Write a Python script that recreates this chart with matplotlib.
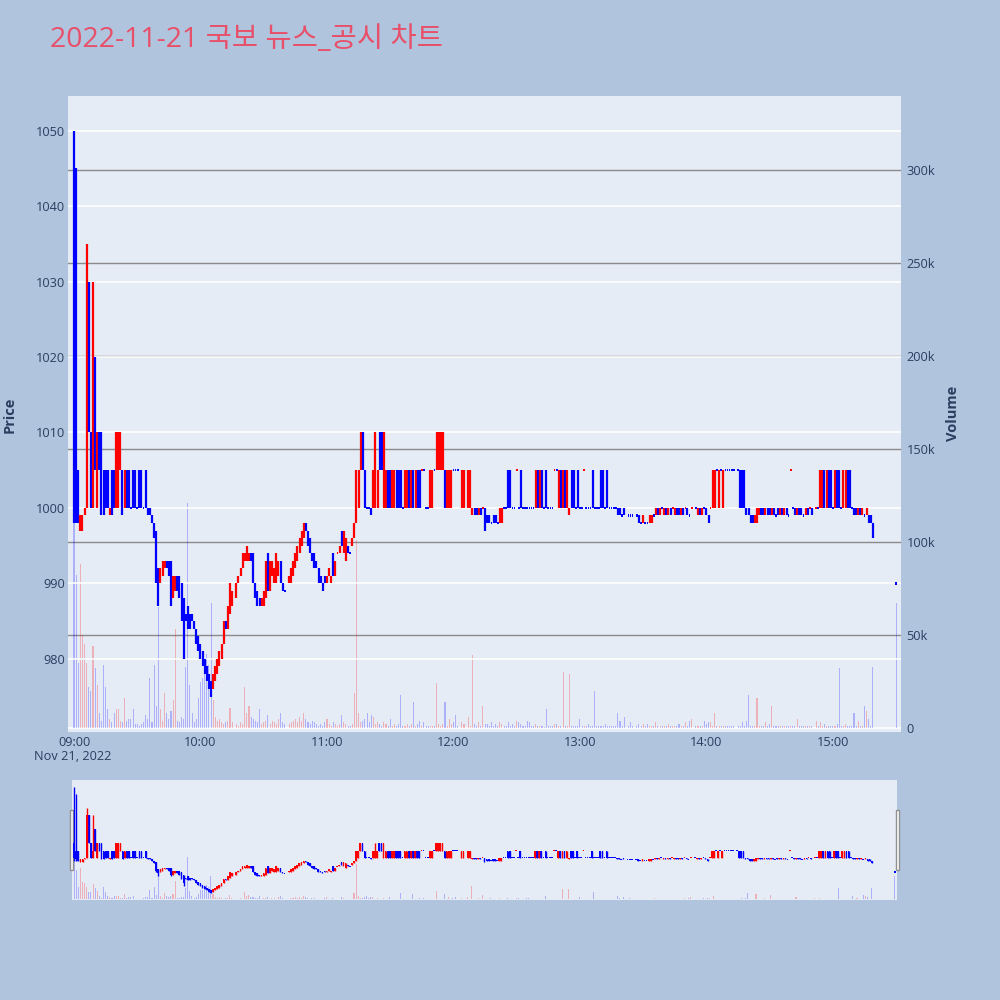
import numpy as np
import matplotlib.pyplot as plt
from matplotlib.patches import Rectangle

plt.rcParams['font.family'] = ['Open Sans', 'Noto Sans CJK KR', 'DejaVu Sans']

nan = np.nan

# 09:00 부터 분 단위 (15:19 까지 + 15:30 동시호가)
minutes = list(range(380)) + [390]

opens = [
    1010, 1005, 1005, 997, 997, 999, 1000, 1030, 1010, 1000,
    1020, 1000, 1010, 1010, 1005, 1005, 1005, 999, 1005, 1005,
    1000, 1000, 1005, 1005, 1000, 1005, 1005, 1000, 1005, 1005,
    1000, 1005, 1005, 1000, 1005, 1000, 1000, 999, 998, 997,
    992, 990, 991, 992, 993, 993, 993, 988, 989, 991,
    991, 990, 988, 986, 987, 986, 986, 985, 984, 983,
    982, 981, 980, 979, 978, 977, 976, 977, 978, 979,
    980, 982, 985, 984, 986, 987, nan, 988, 990, 991,
    992, 993, 993, 993, 994, 994, 990, 989, 988, 987,
    987, 988, 994, 989, 991, 990, 990, 991, 993, 990,
    989, nan, 990, 990, 991, 992, 993, 994, 995, 996,
    998, 997, 996, 994, 994, 993, 992, 991, 990, 991,
    990, 991, 990, 994, 991, 994, 994, 997, 994, 993,
    995, 994, 995, 996, 998, 1000, 1005, 1010, 1005, 1000,
    1000, 1000, 1000, 1000, 1000, 1010, 1010, 1000, 1000, 1005,
    1005, 1000, 1000, 1005, 1005, 1005, 1000, 1000, 1000, 1005,
    1000, 1005, 1000, 1005, 1005, 1005, 1005, 1000, 1000, 1000,
    1000, 1005, 1005, 1005, 1005, 1005, 1005, 1000, 1000, 1000,
    1005, 1005, 1005, nan, 1000, 1000, nan, 1000, 1000, 999,
    1000, 1000, 999, 1000, 1000, 1000, 999, 999, 998, 999,
    999, 998, 998, 998, 1000, 1000, 1005, 1005, 1000, 1000,
    1005, 1000, 1005, 1000, 1000, 1000, 1000, 1000, 1000, 1000,
    1005, 1000, 1005, 1000, 1005, 1000, 1000, 1000, 1005, 1005,
    1000, 1005, 1000, 1005, 1000, 999, 1005, 1005, 1000, 1005,
    1000, 1000, 1005, 1000, 1000, 1000, 1005, 1000, 1000, 1000,
    1005, 1005, 1000, 1005, 1000, 1000, 1000, 1000, 1000, 1000,
    999, 1000, nan, 999, 999, 999, nan, 999, 999, 998,
    998, 998, 998, 998, 998, 999, 999, 1000, 999, 1000,
    999, 1000, 999, 1000, 1000, 999, 1000, 1000, 999, 1000,
    1000, 1000, 999, 1000, nan, 1000, 999, 1000, 999, 1000,
    1000, 999, 1000, 1000, 1000, 1005, 1000, 1005, 1000, 1005,
    1005, 1005, 1005, 1005, nan, 1005, 1005, 1005, 1005, 1000,
    1000, 999, 999, 998, 998, 999, 1000, 1000, 999, 1000,
    1000, 999, 1000, 999, 1000, 999, 1000, 999, 1000, 999,
    1005, 1000, 1000, 999, 1000, 1000, 999, 999, 1000, 1000,
    1000, nan, 1000, 1000, 1000, 1000, 1005, 1000, 1005, 1005,
    1000, 1000, 1005, 1005, 1000, 1000, 1000, 1005, 1005, 1000,
    1000, 1000, 999, 1000, 999, 999, 999, 999, 999, 998,
    990,
]

closes = [
    1000, 999, 998, 999, 999, 1000, 1030, 1010, 1000, 1005,
    1005, 1010, 1005, 999, 999, 1000, 1000, 1000, 999, 1000,
    1010, 1010, 1010, 999, 1005, 1000, 1000, 1000, 1000, 1000,
    1000, 1000, 1000, 1000, 1000, 999, 999, 998, 996, 991,
    989, 992, 993, 993, 992, 991, 988, 991, 991, 989,
    988, 985, 982, 985, 984, 984, 985, 984, 982, 981,
    980, 979, 978, 977, 976, 975, 978, 979, 980, 981,
    982, 985, 984, 987, 990, 989, nan, 990, 991, 992,
    994, 994, 995, 994, 993, 990, 988, 987, 987, 988,
    989, 993, 989, 993, 993, 992, 994, 993, 990, 989,
    989, nan, 991, 992, 993, 994, 995, 996, 997, 998,
    997, 995, 994, 993, 992, 992, 990, 990, 989, 990,
    991, 992, 991, 991, 993, 994, 995, 995, 997, 996,
    994, 994, 996, 998, 1005, 1005, 1010, 1005, 1000, 1000,
    1000, 999, 1005, 1005, 1005, 1005, 1005, 1010, 1005, 1000,
    1000, 1005, 1005, 1000, 1000, 1000, 1000, 1005, 1005, 1000,
    1005, 1000, 1005, 1000, 1000, 1005, 1005, 1000, 1000, 1005,
    1005, 1005, 1010, 1010, 1010, 1010, 1000, 1005, 1005, 1005,
    1005, 1005, 1005, nan, 1005, 1005, nan, 1005, 1005, 1000,
    999, 999, 1000, 999, 1000, 999, 998, 998, 998, 998,
    998, 998, 1000, 1000, 1000, 1000, 1000, 1000, 1000, 1000,
    1005, 1000, 1000, 1000, 1000, 1000, 1000, 1000, 1000, 1005,
    1000, 1005, 1000, 1000, 1000, 1000, 1000, 1000, 1005, 1005,
    1005, 1000, 1005, 1000, 1005, 1000, 1000, 1000, 1000, 1000,
    1000, 1000, 1005, 1000, 1000, 1000, 1000, 1000, 1000, 1000,
    1000, 1000, 1000, 1000, 1000, 1000, 1000, 1000, 999, 999,
    999, 999, nan, 999, 999, 999, nan, 999, 998, 998,
    999, 998, 998, 999, 999, 999, 1000, 999, 1000, 1000,
    1000, 999, 1000, 999, 1000, 1000, 999, 999, 1000, 999,
    1000, 999, 999, 1000, nan, 1000, 1000, 999, 1000, 1000,
    999, 998, 1000, 1005, 1005, 1005, 1005, 1005, 1005, 1005,
    1005, 1005, 1005, 1005, nan, 1005, 1000, 1000, 1000, 999,
    999, 998, 998, 999, 1000, 1000, 999, 999, 1000, 999,
    999, 1000, 999, 999, 999, 1000, 999, 1000, 999, 999,
    1005, 1000, 999, 1000, 999, 999, 999, 1000, 999, 1000,
    999, nan, 1000, 1000, 1005, 1005, 1000, 1005, 1000, 1000,
    1000, 1005, 1000, 1000, 1000, 1005, 1005, 1000, 1000, 1000,
    999, 999, 1000, 999, 1000, 999, 1000, 998, 998, 996,
    990,
]

# 거래량 (천주)
volumes_k = [
    113, 82, 35, 88, 50, 45, 35, 22, 20, 44,
    32, 23, 8, 4, 34, 22, 10, 5, 3, 8,
    10, 10, 4, 3, 16, 4, 5, 5, 10, 2,
    2, 1, 2, 3, 7, 5, 27, 3, 34, 12,
    65, 10, 4, 19, 8, 5, 9, 15, 53, 4,
    3, 6, 5, 33, 121, 23, 8, 3, 5, 16,
    25, 27, 30, 40, 34, 67, 15, 6, 4, 5,
    3, 2, 3, 4, 11, 3, 0, 2, 1, 3,
    2, 22, 8, 12, 6, 5, 4, 3, 10, 2,
    3, 4, 7, 2, 4, 3, 2, 5, 8, 3,
    2, 0, 2, 3, 4, 5, 3, 6, 4, 8,
    5, 3, 2, 4, 3, 2, 1, 2, 1, 3,
    5, 2, 1, 3, 2, 1, 2, 7, 3, 2,
    1, 1, 2, 19, 101, 8, 3, 4, 5, 8,
    3, 7, 6, 2, 3, 2, 1, 3, 2, 1,
    5, 1, 2, 1, 2, 18, 1, 1, 2, 1,
    2, 14, 1, 2, 4, 1, 3, 1, 1, 1,
    1, 1, 24, 2, 1, 2, 14, 1, 5, 2,
    3, 7, 1, 0, 3, 2, 0, 6, 1, 39,
    2, 1, 3, 1, 12, 2, 2, 1, 3, 1,
    2, 1, 3, 2, 1, 1, 3, 1, 2, 1,
    4, 3, 2, 1, 1, 4, 3, 1, 1, 2,
    1, 1, 1, 0.5, 10, 1, 1, 1, 2, 2,
    1, 1, 30, 1, 1, 29, 1, 1, 1, 1,
    5, 1, 1, 1, 2, 1, 1, 20, 1, 1,
    1, 1, 2, 1, 1, 1, 1, 1, 8, 4,
    1, 6, 0, 1, 3, 1, 0, 1, 2, 1,
    2, 1, 2, 1, 1, 1, 3, 1, 1, 1,
    1, 1, 2, 1, 1, 1, 1, 2, 1, 1,
    3, 1, 4, 5, 0, 1, 1, 1, 1, 4,
    2, 3, 3, 1, 8, 1, 1, 1, 1, 1,
    1, 1, 1, 1, 0, 1, 1, 3, 1, 4,
    18, 1, 1, 1, 16, 1, 1, 1, 3, 1,
    2, 12, 1, 1, 1, 1, 1, 1, 1, 1,
    1, 1, 1, 5, 1, 1, 1, 1, 1, 1,
    1, 0, 4, 1, 3, 1, 2, 1, 1, 1,
    1, 1, 2, 32, 1, 1, 2, 1, 1, 1,
    8, 1, 4, 1, 1, 12, 9, 5, 1, 33,
    67,
]

# 꼬리가 몸통보다 긴 봉
wick_min = [0, 1, 6, 9, 39, 40, 46, 52, 143, 195, 235]
wick_high = [1050, 1045, 1035, 1030, 997, 992, 993, 988, 1010, 1000, 1000]
wick_low = [998, 998, 1000, 1000, 990, 987, 987, 980, 1000, 997, 999]

price_ticks = [980, 990, 1000, 1010, 1020, 1030, 1040, 1050]
vol_ticks = [0, 50000, 100000, 150000, 200000, 250000, 300000]
vol_labels = ['0', '50k', '100k', '150k', '200k', '250k', '300k']
hour_ticks = [0, 60, 120, 180, 240, 300, 360]
hour_labels = ['09:00', '10:00', '11:00', '12:00', '13:00', '14:00', '15:00']

assert len(opens) == len(closes) == len(volumes_k) == len(minutes), \
    (len(opens), len(closes), len(volumes_k), len(minutes))

RED, BLUE = '#FF0000', '#0000FF'
PAPER, PLOTBG = '#B0C4DE', '#E5ECF6'
TXT = '#2a3f5f'

t = np.array(minutes, float)
o = np.array(opens, float)
c = np.array(closes, float)
v = np.array(volumes_k, float) * 1000
hi = np.fmax(o, c)
lo = np.fmin(o, c)
for m, h, l in zip(wick_min, wick_high, wick_low):
    hi[m] = h
    lo[m] = l

colors = []
last = None
for oo, cc in zip(o, c):
    if np.isnan(oo):
        colors.append(BLUE)
        continue
    up = cc > oo or (cc == oo and last is not None and cc > last)
    colors.append(RED if up else BLUE)
    last = cc
colors = np.array(colors)
ok = ~np.isnan(o)


def draw(axp, axv, body_w, wick_lw, min_h, vol_w):
    axv.bar(t, v, width=vol_w, color=colors, alpha=0.25, linewidth=0)
    axp.vlines(t[ok], lo[ok], hi[ok], colors=colors[ok], linewidth=wick_lw)
    h = np.abs(c - o)
    b = np.fmin(o, c)
    small = h < min_h
    b = np.where(small, b - min_h / 2, b)
    h = np.where(small, min_h, h)
    axp.bar(t[ok], h[ok], bottom=b[ok], width=body_w, color=colors[ok], linewidth=0)


fig = plt.figure(figsize=(10, 10), dpi=100, facecolor=PAPER)

# 메인 차트
ax = fig.add_axes([0.068, 0.268, 0.833, 0.636])
axv = ax.twinx()
ax.set_zorder(axv.get_zorder() + 1)
ax.patch.set_visible(False)
axv.patch.set_visible(True)
axv.patch.set_facecolor(PLOTBG)

draw(ax, axv, 0.8, 1.6, 0.3, 0.5)

ax.set_xlim(-2.85, 392.3)
ax.set_ylim(970.3, 1054.6)
axv.set_ylim(-2150, 339800)

ax.set_yticks(price_ticks)
for p in price_ticks:
    ax.axhline(p, color='white', linewidth=1.2, zorder=0)
axv.set_yticks(vol_ticks)
axv.set_yticklabels(vol_labels)
for vt in vol_ticks:
    axv.axhline(vt, color='white' if vt == 0 else '#8a8a8a', linewidth=1.2 if vt == 0 else 1.0, zorder=0)

ax.set_xticks(hour_ticks)
ax.set_xticklabels(hour_labels)

for a in (ax, axv):
    for s in a.spines.values():
        s.set_visible(False)
    a.tick_params(length=0, labelsize=9.2, labelcolor=TXT, colors=TXT)
ax.tick_params(axis='y', pad=2)
ax.tick_params(axis='x', pad=3)
axv.tick_params(axis='y', pad=4)

fig.text(0.073, 0.243, 'Nov 21, 2022', ha='center', va='center', fontsize=9.2, color=TXT)
fig.text(0.010, 0.585, 'Price', rotation=90, ha='center', va='center',
         fontsize=10.5, fontweight='bold', color=TXT)
fig.text(0.953, 0.587, 'Volume', rotation=90, ha='center', va='center',
         fontsize=10.5, fontweight='bold', color=TXT)
fig.text(0.05, 0.960, '2022-11-21 국보 뉴스_공시 차트', ha='left', va='center',
         fontsize=20.5, color='#E8506A')

# 레인지 슬라이더
sl = fig.add_axes([0.072, 0.100, 0.825, 0.120])
slv = sl.twinx()
sl.set_zorder(slv.get_zorder() + 1)
sl.patch.set_visible(False)
slv.patch.set_visible(True)
slv.patch.set_facecolor(PLOTBG)
draw(sl, slv, 0.8, 1.0, 0.8, 0.5)
sl.set_xlim(-1, 391)
sl.set_ylim(970.3, 1054.6)
slv.set_ylim(-2150, 339800)
for a in (sl, slv):
    a.set_xticks([])
    a.set_yticks([])
    for s in a.spines.values():
        s.set_visible(False)

for hx in (0.0695, 0.8955):
    fig.add_artist(Rectangle((hx, 0.130), 0.0035, 0.060, transform=fig.transFigure,
                             facecolor='white', edgecolor='#8f8f8f', linewidth=1))

fig.savefig('out.png', dpi=100, facecolor=PAPER)
